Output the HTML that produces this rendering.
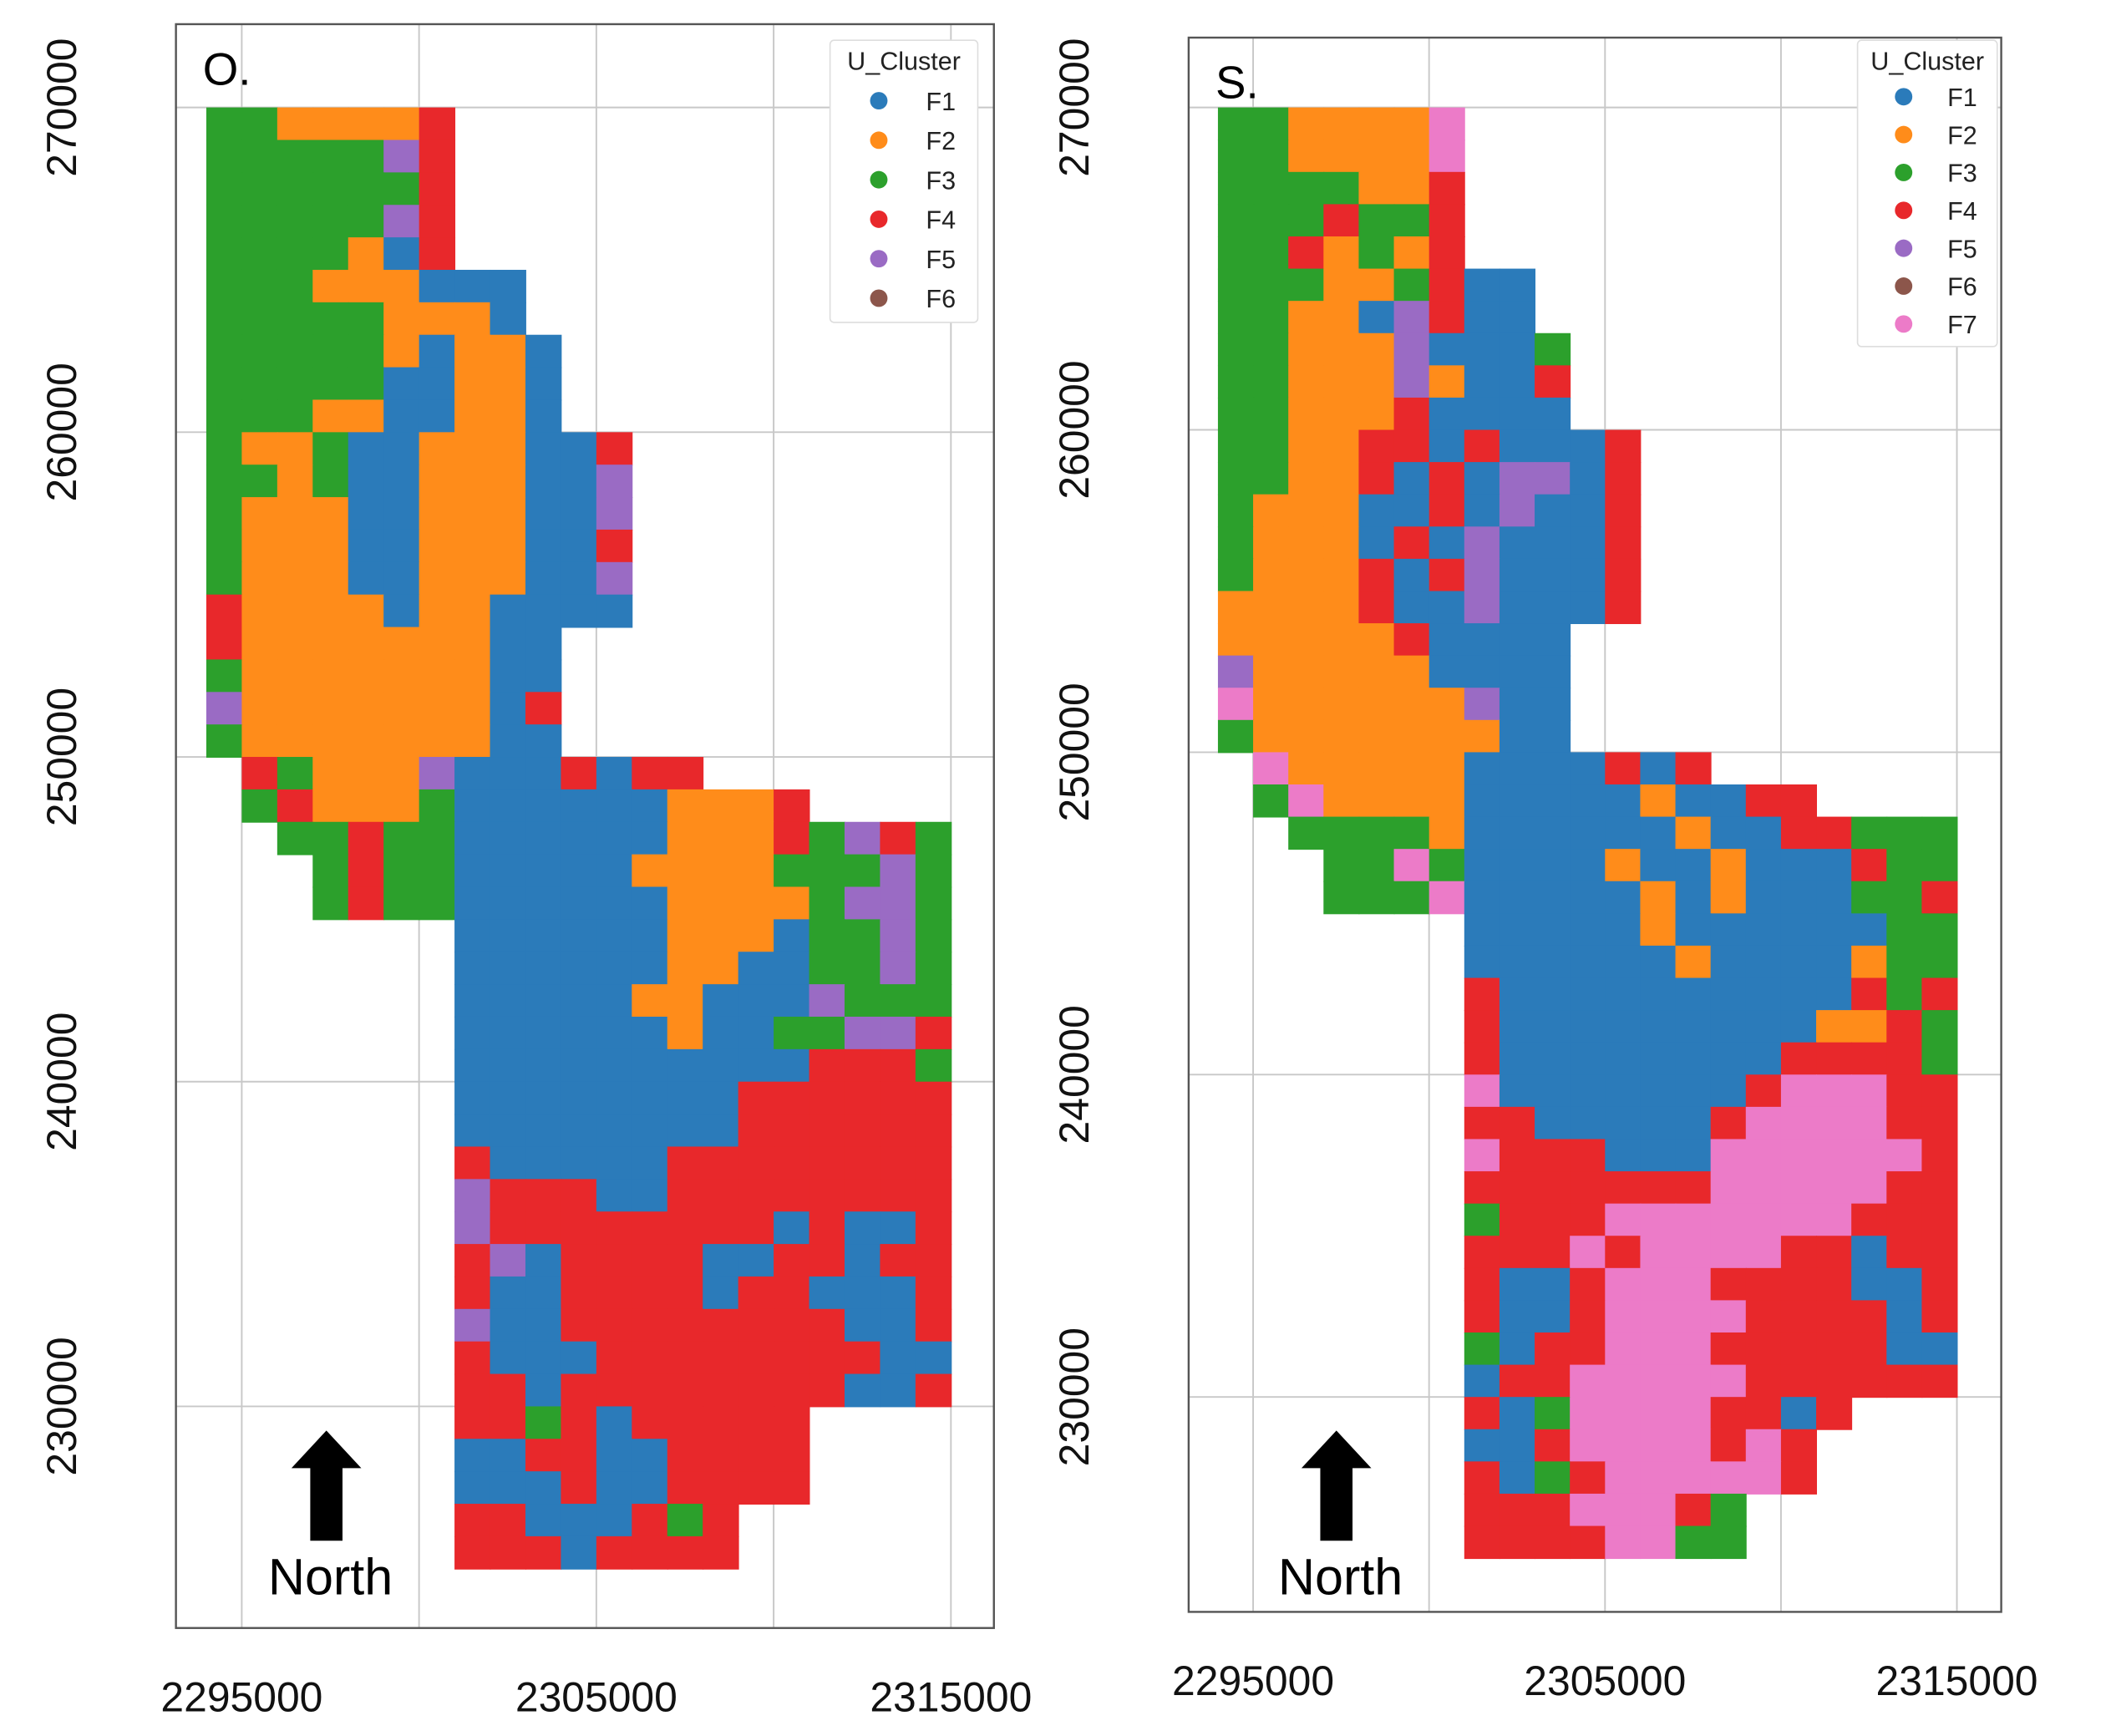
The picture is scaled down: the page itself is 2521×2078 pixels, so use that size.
<!DOCTYPE html>
<html><head><meta charset="utf-8"><style>
html,body{margin:0;padding:0;background:#fff}
svg{display:block}
text{font-family:"Liberation Sans","DejaVu Sans",sans-serif}
</style></head><body>
<svg id="chart" width="2521" height="2078" viewBox="0 0 1568 1292.4" preserveAspectRatio="none" xmlns="http://www.w3.org/2000/svg"></svg>
<script>
// ---- data ----
const clusterNames = ["F1","F2","F3","F4","F5","F6","F7"];
const clusterColors = ["#2b7bba","#ff8c1a","#2ca02c","#e8282b","#9a6bc4","#8c564b","#ec7bc8"];
const xTicks = [2295000, 2305000, 2315000];
const yTicks = [230000, 240000, 250000, 260000, 270000];
const gridX = [2295000, 2300000, 2305000, 2310000, 2315000];
const gridOrigin = [2294000, 270000];
const cellSize = 1000;
// '.' = no data, digit = cluster number
const gridO = [
"3322224","3333354","3333334","3333354","3333214",
"333222111","333332221","3333321221","3333311221","3332211221",
"322311222114","332311222115","322211222115","322211222114","322211222115",
"422221221111","4222222211","3222222211","5222222214","3222222211",
".4322251114144",".3422231111112224","..3343311111122243543",
"...343311111222233353","...343311111122223553",
".......11111122213353",".......11111122113353",".......11111221115333",
".......11111121133554",".......11111111114443",".......11111111444444",
".......11111111444444",".......41111144444444",".......54441144444444",
".......54444444414114",".......45144441144144",".......41144441441114",
".......51144444444114",".......41114444444411",".......44144444444114",
".......4434144444",".......1144114444",".......1114114444",
".......44111434",".......44414444"
];
const gridS = [
"3322227","3322227","3333224","3334334","3342324",
"333223411","332215411","3322251113","3322252114","3322241111",
"332244141114","332241415514","322211415114","322214151114","322241451114",
"222241151114","2222241111","5222221111","7222222511","3222222211",
".7222221111414",".3722221111121144","..3333211111121144333",
"...337311112112111433","...333711111212111334",
".......11111211111133",".......11111121111233",".......41111111111434",
".......41111111112243",".......41111111144443",
".......71111111477744",".......44111114777744",".......74441117777774",
".......44444447777744",".......34447777777444",".......44474777744144",
".......41147774444114",".......41147777444414",".......31447774444411",
".......14477777444444",
".......41377774414",".......1147777474",".......4134777774",
".......44477743",".......44447733"
];
const panels = [
 {id:"o", label:"O.", grid:gridO, legendN:6},
 {id:"s", label:"S.", grid:gridS, legendN:7}
];
// ---- layout (not data) ----
const layout = {
 o:{box:[131,18,740,1212], px:[180,708], py:[80,1047], leg:[618,30,110,210], legStep:29.4, legY0:75, north:[243,1065]},
 s:{box:[885,28,1490,1200], px:[933,1457], py:[80,1040], leg:[1383,30,104,228], legStep:28.2, legY0:72, north:[995,1065]}
};
const NS="http://www.w3.org/2000/svg";
const svg=document.getElementById("chart");
function mk(tag,attrs,parent){const e=document.createElementNS(NS,tag);for(const k in attrs)e.setAttribute(k,attrs[k]);(parent||svg).appendChild(e);return e;}

panels.forEach(p=>{
 const L=layout[p.id];
 const g=mk("g",{});
 
 
 const xs=v=>L.px[0]+(v-xTicks[0])*(L.px[1]-L.px[0])/(xTicks[2]-xTicks[0]);
 const ys=v=>L.py[0]+(yTicks[4]-v)*(L.py[1]-L.py[0])/(yTicks[4]-yTicks[0]);
 const [bx0,by0,bx1,by1]=L.box;
 gridX.forEach(v=>{const l=mk("line",{x1:xs(v),x2:xs(v),y1:by0,y2:by1,stroke:"#c8c8c8","stroke-width":1.2},g);
  
  });
 yTicks.forEach(v=>{const l=mk("line",{x1:bx0,x2:bx1,y1:ys(v),y2:ys(v),stroke:"#c8c8c8","stroke-width":1.2},g);
  
  });
 const cg=mk("g",{},g);
 
 
 p.grid.forEach((row,j)=>{
  for(let i=0;i<row.length;i++){
   const c=row[i]; if(c<"1"||c>"7") continue;
   const X0=gridOrigin[0]+i*cellSize, Y0=gridOrigin[1]-j*cellSize;
   const x0=xs(X0), x1=xs(X0+cellSize), y0=ys(Y0), y1=ys(Y0-cellSize);
   const r=mk("rect",{x:x0,y:y0,width:x1-x0+0.6,height:y1-y0+0.6,fill:clusterColors[+c-1]},cg);
   
   
  }
 });
 const fr=mk("rect",{x:bx0,y:by0,width:bx1-bx0,height:by1-by0,fill:"none",stroke:"#555","stroke-width":1.5},g);
 
 
 xTicks.forEach(v=>{const t=mk("text",{x:xs(v),y:by1+62,"font-size":31,"text-anchor":"middle",fill:"#111"},g);t.textContent=v;
  
  });
 yTicks.forEach(v=>{const x=bx0-85,y=ys(v);const t=mk("text",{x:x,y:y,"font-size":31,"text-anchor":"middle",fill:"#111",transform:`rotate(-90 ${x} ${y})`,"dominant-baseline":"central"},g);t.textContent=v;
  
  });
 const pl=mk("text",{x:bx0+20,y:by0+45,"font-size":34,fill:"#000"},g);pl.textContent=p.label;
 
 
 const [lx,ly,lw,lh]=L.leg;
 const lg=mk("g",{},g);
 
 
 mk("rect",{x:lx,y:ly,width:lw,height:lh,fill:"#fff",stroke:"#ddd","stroke-width":1,rx:3},lg);
 const lt=mk("text",{x:lx+lw/2,y:ly+22,"font-size":19,"text-anchor":"middle",fill:"#222"},lg);lt.textContent="U_Cluster";
 
 
 for(let k=0;k<p.legendN;k++){
  const y=L.legY0+k*L.legStep;
  const c=mk("circle",{cx:lx+lw*0.33,cy:y,r:6.5,fill:clusterColors[k]},lg);
  
  
  const t=mk("text",{x:lx+lw*0.75,y:y+7,"font-size":19,"text-anchor":"middle",fill:"#222"},lg);t.textContent=clusterNames[k];
  
  
 }
 const [nx,ny]=L.north;
 const na=mk("g",{},g);
 
 
 mk("rect",{x:nx-60,y:ny-8,width:125,height:135,fill:"#fff"},na);
 mk("polygon",{points:`${nx},${ny} ${nx-26},${ny+28} ${nx-12},${ny+28} ${nx-12},${ny+82} ${nx+12},${ny+82} ${nx+12},${ny+28} ${nx+26},${ny+28}`,fill:"#000"},na);
 const nt=mk("text",{x:nx+3,y:ny+122,"font-size":38,"text-anchor":"middle",fill:"#000"},na);nt.textContent="North";
 
 
});
</script>
</body></html>
